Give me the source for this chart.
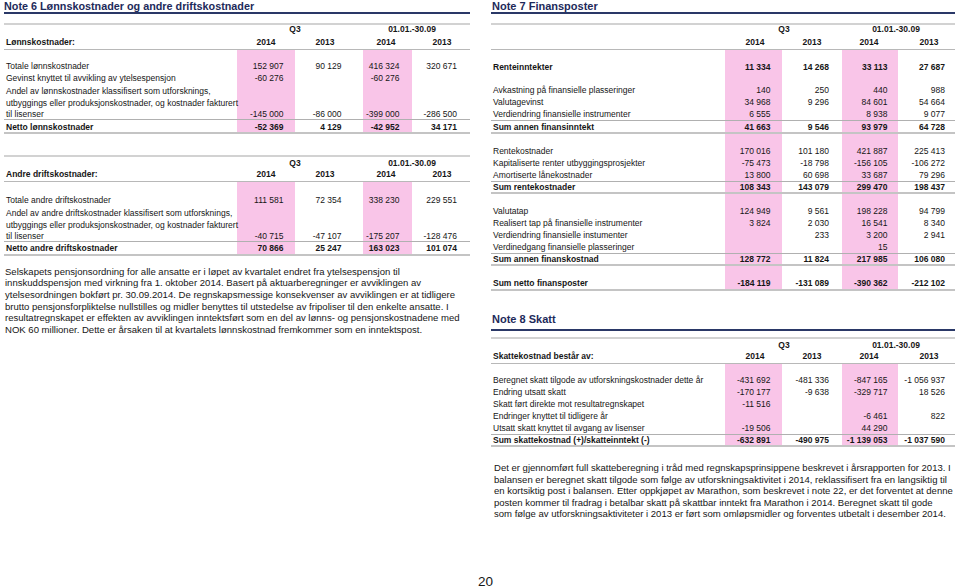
<!DOCTYPE html>
<html>
<head>
<meta charset="utf-8">
<script src="https://cdn.jsdelivr.net/npm/chart.js@4.4.1/dist/chart.umd.min.js"></script>
<style>
  body { margin: 0; background: #fff; }
  #page { position: relative; width: 960px; height: 588px; overflow: hidden;
          font-family: "Liberation Sans", Arial, sans-serif; color: #161616; }
  .t { position: absolute; white-space: nowrap; font-size: 8.5px; line-height: 12px; }
  .b { font-weight: bold; }
  .title { font-size: 11px; font-weight: bold; color: #1d2a5a; }
  .p { font-size: 10px; }
  .r { position: absolute; }
</style>
</head>
<body>
<div id="page"></div>
<script>
// ---- data ----
const yearHeads = ['2014', '2013', '2014', '2013'];
const periodHeads = ['Q3', '01.01.-30.09'];

// Note 6 - lønnskostnader
const lonnLabels = [
  'Totale lønnskostnader',
  'Gevinst knyttet til avvikling av ytelsespensjon',
  'Andel av lønnskostnader klassifisert som utforsknings,\nutbyggings eller produksjonskostnader, og kostnader fakturert\ntil lisenser',
  'Netto lønnskostnader'
];
const lonnQ3_2014 = [152907, -60276, -145000, -52369];
const lonnQ3_2013 = [90129, null, -86000, 4129];
const lonnYtd2014 = [416324, -60276, -399000, -42952];
const lonnYtd2013 = [320671, null, -286500, 34171];

// Note 6 - andre driftskostnader
const driftLabels = [
  'Totale andre driftskostnader',
  'Andel av andre driftskostnader klassifisert som utforsknings,\nutbyggings eller produksjonskostnader, og kostnader fakturert\ntil lisenser',
  'Netto andre driftskostnader'
];
const driftQ3_2014 = [111581, -40715, 70866];
const driftQ3_2013 = [72354, -47107, 25247];
const driftYtd2014 = [338230, -175207, 163023];
const driftYtd2013 = [229551, -128476, 101074];

const note6Text = [
  'Selskapets pensjonsordning for alle ansatte er i løpet av kvartalet endret fra ytelsespensjon til',
  'innskuddspensjon med virkning fra 1. oktober 2014. Basert på aktuarberegninger er avviklingen av',
  'ytelsesordningen bokført pr. 30.09.2014. De regnskapsmessige konsekvenser av avviklingen er at tidligere',
  'brutto pensjonsforpliktelse nullstilles og midler benyttes til utstedelse av fripoliser til den enkelte ansatte. I',
  'resultatregnskapet er effekten av avviklingen inntektsført som en del av lønns- og pensjonskostnadene med',
  'NOK 60 millioner. Dette er årsaken til at kvartalets lønnskostnad fremkommer som en inntektspost.'
];

// Note 7 - finansposter
const finLabels = [
  'Renteinntekter',
  'Avkastning på finansielle plasseringer',
  'Valutagevinst',
  'Verdiendring finansielle instrumenter',
  'Sum annen finansinntekt',
  'Rentekostnader',
  'Kapitaliserte renter utbyggingsprosjekter',
  'Amortiserte lånekostnader',
  'Sum rentekostnader',
  'Valutatap',
  'Realisert tap på finansielle instrumenter',
  'Verdiendring finansielle instumenter',
  'Verdinedgang finansielle plasseringer',
  'Sum annen finanskostnad',
  'Sum netto finansposter'
];
const finQ3_2014 = [11334, 140, 34968, 6555, 41663, 170016, -75473, 13800, 108343, 124949, 3824, null, null, 128772, -184119];
const finQ3_2013 = [14268, 250, 9296, null, 9546, 101180, -18798, 60698, 143079, 9561, 2030, 233, null, 11824, -131089];
const finYtd2014 = [33113, 440, 84601, 8938, 93979, 421887, -156105, 33687, 299470, 198228, 16541, 3200, 15, 217985, -390362];
const finYtd2013 = [27687, 988, 54664, 9077, 64728, 225413, -106272, 79296, 198437, 94799, 8340, 2941, null, 106080, -212102];

// Note 8 - skatt
const skattLabels = [
  'Beregnet skatt tilgode av utforskningskostnader dette år',
  'Endring utsatt skatt',
  'Skatt ført direkte mot resultatregnskapet',
  'Endringer knyttet til tidligere år',
  'Utsatt skatt knyttet til avgang av lisenser',
  'Sum skattekostnad (+)/skatteinntekt (-)'
];
const skattQ3_2014 = [-431692, -170177, -11516, null, -19506, -632891];
const skattQ3_2013 = [-481336, -9638, null, null, null, -490975];
const skattYtd2014 = [-847165, -329717, null, -6461, 44290, -1139053];
const skattYtd2013 = [-1056937, 18526, null, 822, null, -1037590];

const note8Text = [
  'Det er gjennomført full skatteberegning i tråd med regnskapsprinsippene beskrevet i årsrapporten for 2013. I',
  'balansen er beregnet skatt tilgode som følge av utforskningsaktivitet i 2014,  reklassifisert fra en langsiktig til',
  'en kortsiktig post i balansen. Etter oppkjøpet av Marathon, som beskrevet i note 22, er det forventet at denne',
  'posten kommer til fradrag i betalbar skatt på skattbar inntekt fra Marathon i 2014.  Beregnet skatt til gode',
  'som følge av utforskningsaktiviteter i 2013 er ført som omløpsmidler og forventes utbetalt i desember 2014.'
];

// ---- layout ----
const PINK = '#f9c5e8';
const NAVY = '#2a3867';
const page = document.getElementById('page');

function fmt(n) {
  if (n === null || n === undefined) return '';
  const s = Math.abs(n).toString().replace(/\B(?=(\d{3})+(?!\d))/g, ' ');
  return (n < 0 ? '-' : '') + s;
}

function text(str, x, cy, align, cls) {
  const d = document.createElement('div');
  d.className = 't ' + (cls || '');
  d.textContent = str;
  d.style.top = (cy - 6) + 'px';
  if (align === 'right') {
    d.style.left = (x - 200) + 'px'; d.style.width = '200px'; d.style.textAlign = 'right';
  } else if (align === 'center') {
    d.style.left = (x - 100) + 'px'; d.style.width = '200px'; d.style.textAlign = 'center';
  } else {
    d.style.left = x + 'px';
  }
  page.appendChild(d);
  return d;
}

function box(x0, x1, y0, y1, color) {
  const d = document.createElement('div');
  d.className = 'r';
  d.style.left = x0 + 'px'; d.style.width = (x1 - x0) + 'px';
  d.style.top = y0 + 'px'; d.style.height = (y1 - y0) + 'px';
  d.style.background = color;
  page.appendChild(d);
}

function table(labels, cols, head, L) {
  L.pink.forEach(p => box(p[0], p[1], L.headRule, L.pinkBottom, PINK));
  box(L.left, L.right, L.topRule - 1, L.topRule + 1, '#d2d2d2');
  box(L.left, L.right, L.headRule - 0.5, L.headRule + 0.5, '#b8b8b8');
  L.rules.forEach(r => box(L.left, L.right, r[0] - r[1] / 2, r[0] + r[1] / 2, r[1] > 1 ? '#c4c4c4' : '#b0b0b0'));
  text(periodHeads[0], L.periodX[0], L.periodY, 'center', 'b');
  text(periodHeads[1], L.periodX[1], L.periodY, 'center', 'b');
  if (head) text(head, L.labelX, L.headY, 'left', 'b');
  yearHeads.forEach((h, i) => text(h, L.yearX[i], L.headY, 'center', 'b'));
  labels.forEach((lab, i) => {
    const lines = lab.split('\n');
    const ys = L.rowY[i];
    const cls = L.bold.includes(i) ? 'b' : '';
    lines.forEach((ln, k) => text(ln, L.labelX, ys[k], 'left', cls));
    const vy = ys[ys.length - 1];
    cols.forEach((c, j) => text(fmt(c[i]), L.colRight[j], vy, 'right', cls));
  });
}

// paragraph: size the font so the first line ends where it does in the print
function paragraph(lines, x, y0, step, firstLineEnd) {
  const divs = lines.map((ln, i) => text(ln, x, y0 + i * step, 'left', 'p'));
  const w = divs[0].getBoundingClientRect().width;
  const size = 10 * (firstLineEnd - x) / w;
  divs.forEach(d => d.style.fontSize = size.toFixed(2) + 'px');
}

// titles
text('Note 6 Lønnskostnader og andre driftskostnader', 4, 6, 'left', 'title').style.fontSize = '10.8px';
box(4, 470, 11.5, 13.5, NAVY);
text('Note 7 Finansposter', 492, 6, 'left', 'title');
box(491, 955, 11.5, 13.5, NAVY);
text('Note 8 Skatt', 492, 318.5, 'left', 'title');
box(491, 955, 328.5, 330.5, NAVY);

const leftCols = { colRight: [283.5, 341.5, 399.5, 457], yearX: [266, 325, 386, 442],
                   periodX: [295, 412], pink: [[237, 295], [363, 412]], left: 4, right: 470, labelX: 6 };
const rightCols = { colRight: [770.5, 829, 887.5, 945], yearX: [755, 812, 869, 929],
                    periodX: [784, 896], pink: [[725, 782], [842, 898]], left: 491, right: 955, labelX: 493 };

table(lonnLabels, [lonnQ3_2014, lonnQ3_2013, lonnYtd2014, lonnYtd2013], 'Lønnskostnader:',
  Object.assign({}, leftCols, {
    topRule: 23.5, periodY: 29.3, headY: 41.7, headRule: 49.5, pinkBottom: 133,
    rowY: [[66], [78.3], [90.7, 102.7, 114.3], [127]], bold: [3],
    rules: [[119.5, 1], [133, 2]]
  }));

table(driftLabels, [driftQ3_2014, driftQ3_2013, driftYtd2014, driftYtd2013], 'Andre driftskostnader:',
  Object.assign({}, leftCols, {
    topRule: 156, periodY: 162.7, headY: 174.3, headRule: 181, pinkBottom: 254.5,
    rowY: [[199.7], [213, 224.5, 235.7], [247.7]], bold: [2],
    rules: [[241, 1], [254.5, 2]]
  }));

table(finLabels, [finQ3_2014, finQ3_2013, finYtd2014, finYtd2013], '',
  Object.assign({}, rightCols, {
    topRule: 23.5, periodY: 29.3, headY: 41.7, headRule: 49.5, pinkBottom: 290,
    rowY: [[66.5], [90], [102], [114], [127], [151], [163], [175], [187], [211], [223], [235], [247], [259], [283]],
    bold: [0, 4, 8, 13, 14],
    rules: [[120.5, 1], [133, 2], [181, 1], [193, 2], [253, 1], [265, 2], [289.5, 2]]
  }));

table(skattLabels, [skattQ3_2014, skattQ3_2013, skattYtd2014, skattYtd2013], 'Skattekostnad består av:',
  Object.assign({}, rightCols, {
    topRule: 338, periodY: 344.5, headY: 356, headRule: 363, pinkBottom: 446,
    rowY: [[380], [392], [404], [416], [428], [440]], bold: [5],
    rules: [[434, 1], [446, 2]]
  }));

paragraph(note6Text, 5, 271.5, 11.7, 400);
paragraph(note8Text, 494, 468, 11.5, 951);

const pg = document.createElement('div');
pg.className = 't';
pg.style.cssText = 'left:478px;top:574px;font-size:13.5px;line-height:16px;';
pg.textContent = '20';
page.appendChild(pg);
</script>
</body>
</html>
